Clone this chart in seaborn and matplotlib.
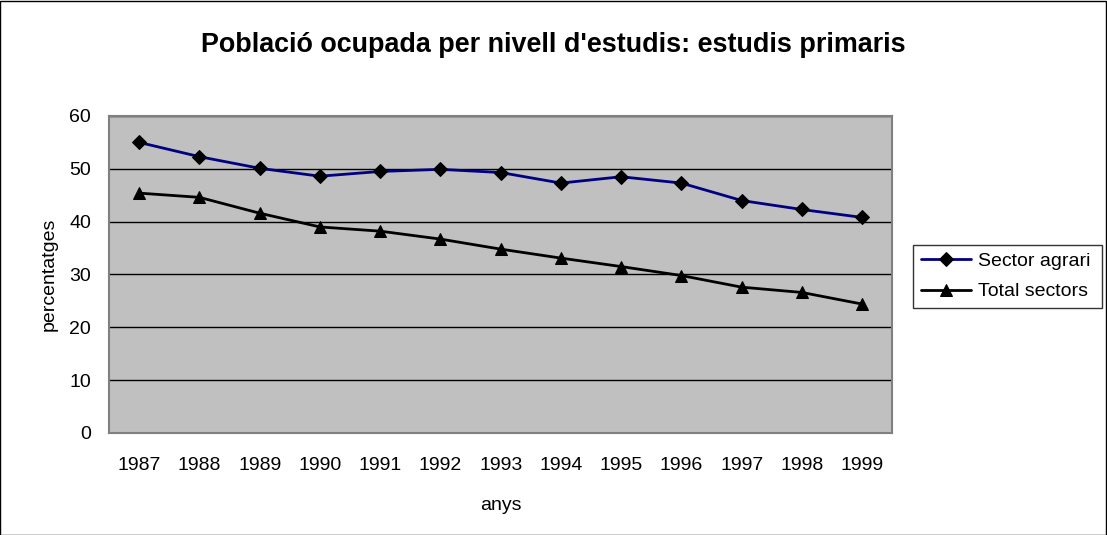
import numpy as np
import pandas as pd
import matplotlib
matplotlib.use("Agg")
import matplotlib.pyplot as plt
import seaborn as sns
from matplotlib.patches import Rectangle

anys = ["1987", "1988", "1989", "1990", "1991", "1992", "1993",
        "1994", "1995", "1996", "1997", "1998", "1999"]
sector_agrari = [55.0, 52.3, 50.1, 48.6, 49.5, 49.9, 49.3, 47.3, 48.5, 47.3, 44.0, 42.3, 40.8]
total_sectors = [45.4, 44.6, 41.6, 39.0, 38.2, 36.7, 34.8, 33.1, 31.5, 29.8, 27.6, 26.6, 24.4]

df = pd.DataFrame({
    "anys": anys * 2,
    "valor": sector_agrari + total_sectors,
    "serie": ["Sector agrari"] * len(anys) + ["Total sectors"] * len(anys),
})

sns.set_style("white", rc={"text.color": "black", "axes.labelcolor": "black",
                           "xtick.color": "black", "ytick.color": "black"})
plt.rcParams["font.family"] = ["Liberation Sans", "DejaVu Sans"]

fig = plt.figure(figsize=(11.07, 5.35), dpi=100)
ax = fig.add_axes([0.0985, 0.1907, 0.7075, 0.5925])
ax.set_facecolor("#C0C0C0")

sns.lineplot(data=df, x="anys", y="valor", hue="serie", style="serie",
             palette={"Sector agrari": "#000080", "Total sectors": "black"},
             markers={"Sector agrari": "D", "Total sectors": "^"},
             dashes=False, markersize=8.5, markeredgecolor="black",
             markerfacecolor="black", linewidth=2, ax=ax, zorder=3)
# diamonds are drawn a little smaller than the triangles
for ln in ax.lines:
    if ln.get_marker() == "D":
        ln.set_markersize(7.5)

ax.set_ylim(0, 60)
ax.set_xlim(-0.5, len(anys) - 0.5)
ax.set_yticks(np.arange(0, 61, 10))
ax.yaxis.grid(True, color="black", linewidth=1)
ax.set_axisbelow(True)

ax.set_xticks(np.arange(len(anys)))
ax.set_xticklabels(anys)
ax.set_xticks(np.arange(-0.5, len(anys)), minor=True)
ax.tick_params(axis="x", which="major", length=0, labelsize=14, pad=17)
ax.tick_params(axis="x", which="minor", length=5, color="black", direction="out")
ax.tick_params(axis="y", length=5, color="black", direction="out", labelsize=14, pad=8)

for s in ax.spines.values():
    s.set_color("#808080")
    s.set_linewidth(1.5)

ax.set_xlabel("anys", fontsize=14, labelpad=17)
ax.set_ylabel("percentatges", fontsize=14, labelpad=8)

fig.suptitle("Població ocupada per nivell d'estudis: estudis primaris",
             fontsize=19.4, fontweight="bold", y=0.916, va="center")

handles, labels = ax.get_legend_handles_labels()
for h in handles:
    h.set_linewidth(2)
    if h.get_marker() == "D":
        h.set_markersize(7.5)
leg = ax.legend(handles, labels, loc="center left",
                bbox_to_anchor=(0.8248, 0.4206, 0.171, 0.1252),
                bbox_transform=fig.transFigure, mode="expand", frameon=True,
                fancybox=False, edgecolor="black", fontsize=14,
                handlelength=2.6, handletextpad=0.35, borderpad=0.4,
                labelspacing=0.65, borderaxespad=0)
leg.get_frame().set_linewidth(1)

fig.patches.append(Rectangle((0.0, 0.0), 0.999, 0.998, transform=fig.transFigure,
                             fill=False, edgecolor="black", linewidth=1))

fig.savefig("out.png", dpi=100)
